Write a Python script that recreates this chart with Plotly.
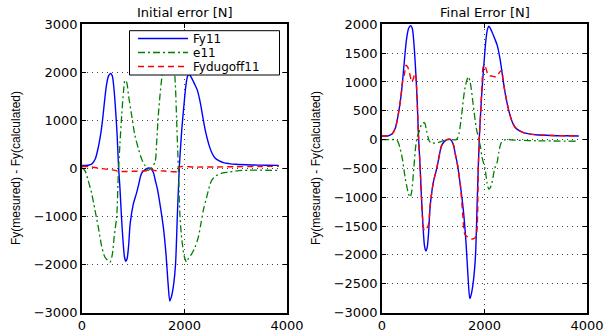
import plotly.graph_objects as go

# ---------------- data ----------------
fy11_x = [0, 120, 200, 260, 320, 370, 400, 440, 480, 520, 560, 590, 620, 650, 680, 700, 715,
          740, 770, 800, 830, 855, 880, 910, 940, 1000, 1067, 1100, 1165, 1250, 1330, 1390,
          1435, 1470, 1530, 1590, 1640, 1680, 1714, 1750, 1790, 1825, 1860, 1880, 1900, 1922,
          1950, 1987, 2030, 2060, 2085, 2140, 2200, 2250, 2310, 2360, 2410, 2480, 2540, 2600,
          2670, 2760, 2865, 3000, 3300, 3600, 3840]
fy11 = [63, 65, 100, 200, 450, 750, 1000, 1400, 1750, 1930, 1975, 1930, 1700, 1300, 800, 350, 0,
        -400, -1000, -1500, -1850, -1935, -1880, -1600, -1150, -750, -505, -360, -100, -10, 5, -80,
        -273, -420, -800, -1250, -1800, -2400, -2760, -2650, -2400, -2000, -1000, -450, 50, 420,
        850, 1290, 1750, 1920, 1965, 1880, 1750, 1630, 1360, 1050, 770, 480, 310, 210,
        160, 120, 100, 85, 72, 66, 63]

# initial error
e11_init_x = [0, 60, 120, 189, 250, 318, 380, 449, 546, 590, 630, 677, 709, 740, 774, 810, 839,
              870, 910, 970, 1030, 1100, 1170, 1229, 1294, 1360, 1424, 1460, 1489, 1520, 1555,
              1600, 1650, 1700, 1760, 1815, 1850, 1880, 1912, 1950, 2000, 2042, 2075, 2140, 2205,
              2270, 2320, 2367, 2432, 2530, 2627, 2750, 2855, 3115, 3840]
e11_init = [15, -50, -250, -520, -850, -1222, -1600, -1850, -1950, -1800, -1400, -1000, -100, 500,
            1100, 1600, 1833, 1800, 1500, 1100, 700, 410, 180, 60, -40, 20, 130, 600, 1100, 1500,
            1870, 2300, 2650, 2750, 2500, 1870, 900, 0, -1000, -1500, -1850, -1950, -1880, -1780,
            -1640, -1430, -1150, -875, -600, -250, -146, -95, -77, -42, -42]

fyd_init_x = [0, 150, 300, 500, 650, 720, 1000, 1250, 1330, 1400, 1600, 1880, 1905, 2200, 2600,
              3000, 3500, 3840]
fyd_init = [45, 35, 10, -20, -40, -62, -60, -50, -5, -40, -55, -60, 30, 27, 30, 35, 40, 45]

# final error
e11_fin_x = [0, 150, 288, 384, 450, 520, 550, 580, 620, 660, 690, 730, 780, 830, 870, 920, 960,
             1034, 1100, 1200, 1300, 1450, 1500, 1550, 1620, 1684, 1720, 1780, 1840, 1890, 1922,
             1950, 2010, 2050, 2085, 2130, 2200, 2248, 2280, 2330, 2410, 2600, 3000, 3840]
e11_fin = [0, 0, -12, -273, -650, -950, -1000, -900, -500, -100, 50, 150, 280, 290, 150, -20, -60,
           -60, -50, -20, 0, 0, 100, 400, 900, 1090, 1000, 600, 200, 0, -128, -300, -505, -750,
           -860, -800, -500, -390, -216, -50, 0, -10, -20, -30]

fyd_fin_x = [0, 120, 200, 260, 320, 370, 400, 440, 470, 500, 540, 580, 610, 640, 660, 680, 700, 715,
             740, 770, 800, 826, 860, 900, 940, 1000, 1067, 1100, 1165, 1250, 1330, 1390, 1435,
             1470, 1530, 1580, 1620, 1700, 1760, 1820, 1850, 1880, 1900, 1922, 1953, 1975, 2000,
             2040, 2071, 2150, 2234, 2302, 2340, 2360, 2410, 2480, 2540, 2600, 2670, 2760, 2865,
             3000, 3300, 3600, 3840]
fyd_fin = [63, 65, 100, 200, 450, 750, 1000, 1150, 1290, 1260, 1150, 1000, 1050, 1150, 1100, 800,
           350, 0, -400, -1000, -1450, -1580, -1550, -1500, -1150, -750, -505, -360, -100, -10, 5,
           -80, -273, -420, -800, -1350, -1650, -1700, -1725, -1700, -1600, -450, 50, 420, 1000,
           1265, 1290, 1200, 1120, 1100, 1090, 1178, 1200, 1050, 770, 480, 310, 210, 160, 120,
           100, 85, 72, 66, 63]

x_ticks = [0, 2000, 4000]
y_ticks_init = [-3000, -2000, -1000, 0, 1000, 2000, 3000]
y_ticks_fin = [-3000, -2500, -2000, -1500, -1000, -500, 0, 500, 1000, 1500, 2000]

# ---------------- figure ----------------
W, H = 605, 335
FONT = "DejaVu Sans"
BLUE, GREEN, RED = "#0000FF", "#008000", "#FF0000"
blue_line = dict(color=BLUE, width=1.4, shape="spline", smoothing=0.8)
green_line = dict(color=GREEN, width=1.3, dash="7px,3px,2px,3px", shape="spline", smoothing=0.8)
red_line = dict(color=RED, width=1.4, dash="6px,4px", shape="spline", smoothing=0.8)

fig = go.Figure()
fig.add_trace(go.Scatter(x=fy11_x, y=fy11, mode="lines", name="Fy11", line=blue_line,
                         xaxis="x", yaxis="y", legend="legend"))
fig.add_trace(go.Scatter(x=e11_init_x, y=e11_init, mode="lines", name="e11", line=green_line,
                         xaxis="x", yaxis="y", legend="legend2"))
fig.add_trace(go.Scatter(x=fyd_init_x, y=fyd_init, mode="lines", name="Fydugoff11", line=red_line,
                         xaxis="x", yaxis="y", legend="legend3"))
fig.add_trace(go.Scatter(x=fy11_x, y=fy11, mode="lines", name="Fy11", line=blue_line,
                         xaxis="x2", yaxis="y2", showlegend=False))
fig.add_trace(go.Scatter(x=e11_fin_x, y=e11_fin, mode="lines", name="e11", line=green_line,
                         xaxis="x2", yaxis="y2", showlegend=False))
fig.add_trace(go.Scatter(x=fyd_fin_x, y=fyd_fin, mode="lines", name="Fydugoff11", line=red_line,
                         xaxis="x2", yaxis="y2", showlegend=False))


def px_x(p):
    return p / W


def px_y(p):
    return 1 - p / H


ydom = [px_y(312.5), px_y(24.3)]
axis_common = dict(showline=True, linecolor="black", linewidth=1.5, mirror="ticks",
                   ticks="inside", ticklen=4, tickcolor="black", tickwidth=1,
                   showgrid=True, gridcolor="#444444", griddash="1px,4px", gridwidth=1,
                   zeroline=False, automargin=False,
                   tickfont=dict(family=FONT, size=13, color="black"))

leg_common = dict(xanchor="left", yanchor="middle", bgcolor="rgba(0,0,0,0)", borderwidth=0,
                  font=dict(family=FONT, size=12, color="black"), itemwidth=50)

fig.update_layout(
    width=W, height=H, margin=dict(l=0, r=0, t=0, b=0, autoexpand=False),
    paper_bgcolor="white", plot_bgcolor="white",
    showlegend=True,
    xaxis=dict(domain=[px_x(82), px_x(287)], range=[0, 4000], tickvals=x_ticks,
               anchor="y", **axis_common),
    yaxis=dict(domain=ydom, range=[-3000, 3000], tickvals=y_ticks_init,
               anchor="x", **axis_common),
    xaxis2=dict(domain=[px_x(382), px_x(587)], range=[0, 4000], tickvals=x_ticks,
                anchor="y2", **axis_common),
    yaxis2=dict(domain=ydom, range=[-3000, 2000], tickvals=y_ticks_fin,
                anchor="x2", **axis_common),
    legend=dict(x=px_x(133), y=px_y(38.5), **leg_common),
    legend2=dict(x=px_x(133), y=px_y(52.5), **leg_common),
    legend3=dict(x=px_x(133), y=px_y(66.5), **leg_common),
    font=dict(family=FONT, color="black"),
)

# legend frame (white box behind the legend entries)
fig.add_shape(type="rect", xref="paper", yref="paper",
              x0=px_x(129.5), x1=px_x(279.5), y0=px_y(75), y1=px_y(30.7),
              fillcolor="white", line=dict(color="black", width=1), layer="above")

annos = [
    dict(text="Initial error [N]", x=px_x(184.5), y=px_y(12)),
    dict(text="Final Error [N]", x=px_x(484.5), y=px_y(12)),
    dict(text="Fy(mesured) - Fy(calculated)", x=px_x(15.5), y=px_y(168.5), textangle=-90,
         font=dict(family="Liberation Sans", size=12, color="black")),
    dict(text="Fy(mesured) - Fy(calculated)", x=px_x(315.5), y=px_y(168.5), textangle=-90,
         font=dict(family="Liberation Sans", size=12, color="black")),
]
for a in annos:
    a.setdefault("font", dict(family=FONT, size=13, color="black"))
    fig.add_annotation(xref="paper", yref="paper", xanchor="center", yanchor="middle",
                       showarrow=False, **a)

fig.write_html("out.html")
